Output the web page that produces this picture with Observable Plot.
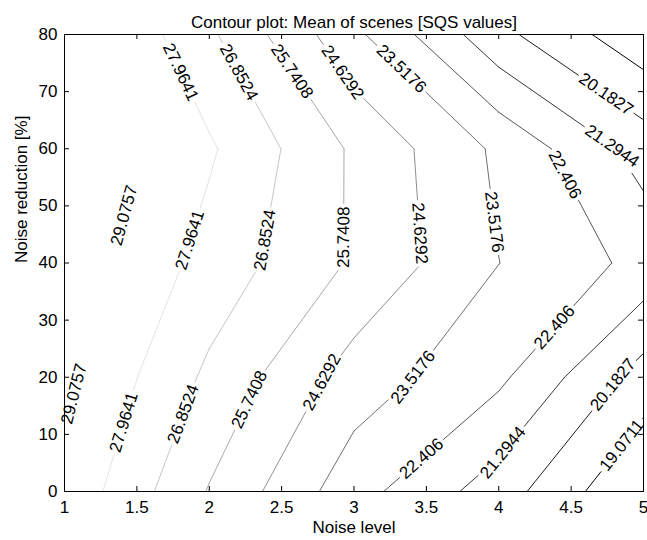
<!DOCTYPE html>
<html><head><meta charset="utf-8">
<script src="https://cdn.jsdelivr.net/npm/d3@7"></script>
<script src="https://cdn.jsdelivr.net/npm/@observablehq/plot@0.6"></script>
<style>body{margin:0;background:#fff}</style>
</head><body><div id="chart"></div>
<script>
// Grid of measured values (noise level x noise reduction)
const noiseLevel = [1, 2, 3, 4, 5];
const noiseReduction = [0, 20, 40, 60, 80];
const sqsAt0  = [28.79, 25.67, 22.84, 20.725, 17.96];
const sqsAt20 = [29.33, 26.62, 24.12, 22.64, 19.68];
const sqsAt40 = [29.80, 27.55, 25.60, 23.53, 22.09];
const sqsAt60 = [30.19, 28.116, 25.565, 23.305, 20.825];
const sqsAt80 = [29.90, 27.05, 23.78, 20.49, 18.29];
const levels = [29.0757, 27.9641, 26.8524, 25.7408, 24.6292, 23.5176, 22.406, 21.2944, 20.1827, 19.0711];
const xTicks = [1, 1.5, 2, 2.5, 3, 3.5, 4, 4.5, 5];
const yTicks = [0, 10, 20, 30, 40, 50, 60, 70, 80];
// Approximate contour-label anchors (snapped onto the computed contours)
const labelLevel = [27.9641, 26.8524, 25.7408, 24.6292, 23.5176, 20.1827, 21.2944, 22.406, 23.5176, 24.6292, 25.7408, 26.8524, 27.9641, 29.0757, 29.0757, 27.9641, 26.8524, 25.7408, 24.6292, 23.5176, 22.406, 21.2944, 22.406, 20.1827, 19.0711];
const labelX = [1.794, 2.199, 2.558, 2.917, 3.316, 4.743, 4.778, 4.444, 3.944, 3.458, 2.951, 2.408, 1.892, 1.458, 1.111, 1.435, 1.828, 2.292, 2.795, 3.408, 3.472, 4.04, 4.396, 4.774, 4.83];
const labelY = [73.3, 73.3, 73.3, 73.3, 73.7, 69.6, 60.3, 55.3, 47.1, 45.2, 44.5, 43.9, 43.8, 48, 16.8, 11.9, 13.5, 15.9, 18.9, 20, 5.6, 6.6, 28.5, 19, 8.5];

const W = 647, H = 540, mL = 64, mR = 4, mT = 34, mB = 49;
const FS = 17;
const plotW = W - mL - mR, plotH = H - mT - mB;
const kx = plotW / (noiseLevel[noiseLevel.length - 1] - noiseLevel[0]);
const ky = plotH / (noiseReduction[noiseReduction.length - 1] - noiseReduction[0]);

const grid = [sqsAt0, sqsAt20, sqsAt40, sqsAt60, sqsAt80];
const segments = [];
for (const level of levels) {
  for (let j = 0; j < noiseReduction.length - 1; j++) {
    for (let i = 0; i < noiseLevel.length - 1; i++) {
      const x0 = noiseLevel[i], x1 = noiseLevel[i + 1], y0 = noiseReduction[j], y1 = noiseReduction[j + 1];
      const c = [[x0, y0, grid[j][i]], [x1, y0, grid[j][i + 1]], [x1, y1, grid[j + 1][i + 1]], [x0, y1, grid[j + 1][i]]];
      const pts = [];
      for (let e = 0; e < 4; e++) {
        const a = c[e], b = c[(e + 1) % 4];
        if ((a[2] >= level) !== (b[2] >= level)) {
          const t = (level - a[2]) / (b[2] - a[2]);
          pts.push([a[0] + t * (b[0] - a[0]), a[1] + t * (b[1] - a[1])]);
        }
      }
      for (let k = 0; k + 1 < pts.length; k += 2) {
        segments.push({level, x1: pts[k][0], y1: pts[k][1], x2: pts[k + 1][0], y2: pts[k + 1][1]});
      }
    }
  }
}

// snap labels to contours
const labels = labelLevel.map((lev, n) => {
  const hx = labelX[n], hy = labelY[n];
  let best = null, bestD = Infinity;
  for (const s of segments) {
    if (s.level !== lev) continue;
    const ax = s.x1 * kx, ay = s.y1 * ky, bx = s.x2 * kx, by = s.y2 * ky;
    const px = hx * kx, py = hy * ky;
    const dx = bx - ax, dy = by - ay;
    const L2 = dx * dx + dy * dy || 1;
    let t = ((px - ax) * dx + (py - ay) * dy) / L2;
    t = Math.max(0, Math.min(1, t));
    const qx = ax + t * dx, qy = ay + t * dy;
    const d = (qx - px) ** 2 + (qy - py) ** 2;
    if (d < bestD) { bestD = d; best = {x: qx / kx, y: qy / ky, s}; }
  }
  const s = best.s;
  let ang = Math.atan2(-(s.y2 - s.y1) * ky, (s.x2 - s.x1) * kx) * 180 / Math.PI;
  if (ang > 90) ang -= 180;
  if (ang <= -90) ang += 180;
  const text = String(lev);
  let em = 0;
  for (const ch of text) em += ch === "." ? 0.278 : 0.556;
  return {x: best.x, y: best.y, text, rotate: ang, level: lev, r: em * FS / 2 + 3};
});

// break contour lines where labels sit
const pieces = [];
for (const s of segments) {
  let intervals = [[0, 1]];
  const ax = s.x1 * kx, ay = s.y1 * ky, dx = (s.x2 - s.x1) * kx, dy = (s.y2 - s.y1) * ky;
  for (const lb of labels) {
    if (lb.level !== s.level) continue;
    const cx = lb.x * kx, cy = lb.y * ky;
    const A = dx * dx + dy * dy, B = 2 * ((ax - cx) * dx + (ay - cy) * dy), C = (ax - cx) ** 2 + (ay - cy) ** 2 - lb.r * lb.r;
    const disc = B * B - 4 * A * C;
    if (A === 0 || disc <= 0) continue;
    const t0 = (-B - Math.sqrt(disc)) / (2 * A), t1 = (-B + Math.sqrt(disc)) / (2 * A);
    const next = [];
    for (const [u, v] of intervals) {
      if (t1 <= u || t0 >= v) { next.push([u, v]); continue; }
      if (t0 > u) next.push([u, t0]);
      if (t1 < v) next.push([t1, v]);
    }
    intervals = next;
  }
  for (const [u, v] of intervals) {
    pieces.push({level: s.level,
      x1: s.x1 + u * (s.x2 - s.x1), y1: s.y1 + u * (s.y2 - s.y1),
      x2: s.x1 + v * (s.x2 - s.x1), y2: s.y1 + v * (s.y2 - s.y1)});
  }
}

const chart = Plot.plot({
  width: W, height: H,
  marginLeft: mL, marginRight: mR, marginTop: mT, marginBottom: mB,
  style: {fontFamily: "'Liberation Sans', Arial, Helvetica, sans-serif", fontSize: FS + "px", background: "white", color: "black"},
  x: {domain: [1, 5]},
  y: {domain: [0, 80]},
  color: {type: "linear", domain: [levels[levels.length - 1], levels[0]], range: ["black", "white"], interpolate: "rgb"},
  marks: [
    Plot.link(pieces, {x1: "x1", y1: "y1", x2: "x2", y2: "y2", stroke: "level", strokeWidth: 1, strokeLinecap: "round"}),
    Plot.text(labels, {x: "x", y: "y", text: "text", rotate: "rotate", fill: "black", fontSize: FS}),
    Plot.tickX(xTicks, {x: d => d, insetTop: plotH - 5, stroke: "black"}),
    Plot.tickX(xTicks, {x: d => d, insetBottom: plotH - 5, stroke: "black"}),
    Plot.tickY(yTicks, {y: d => d, insetRight: plotW - 5, stroke: "black"}),
    Plot.tickY(yTicks, {y: d => d, insetLeft: plotW - 5, stroke: "black"}),
    Plot.axisX({ticks: xTicks, tickSize: 0, tickPadding: 9, label: null, tickFormat: d => String(d)}),
    Plot.axisY({ticks: yTicks, tickSize: 0, tickPadding: 7, label: null, tickFormat: d => String(d)}),
    Plot.frame({stroke: "black", strokeWidth: 1}),
    Plot.text(["Contour plot: Mean of scenes [SQS values]"], {frameAnchor: "top", dy: -19, fontSize: FS}),
    Plot.text(["Noise level"], {frameAnchor: "bottom", dy: 41, fontSize: FS}),
    Plot.text(["Noise reduction [%]"], {frameAnchor: "left", dx: -43, rotate: -90, fontSize: FS})
  ]
});
document.getElementById("chart").appendChild(chart);
</script>
</body></html>
